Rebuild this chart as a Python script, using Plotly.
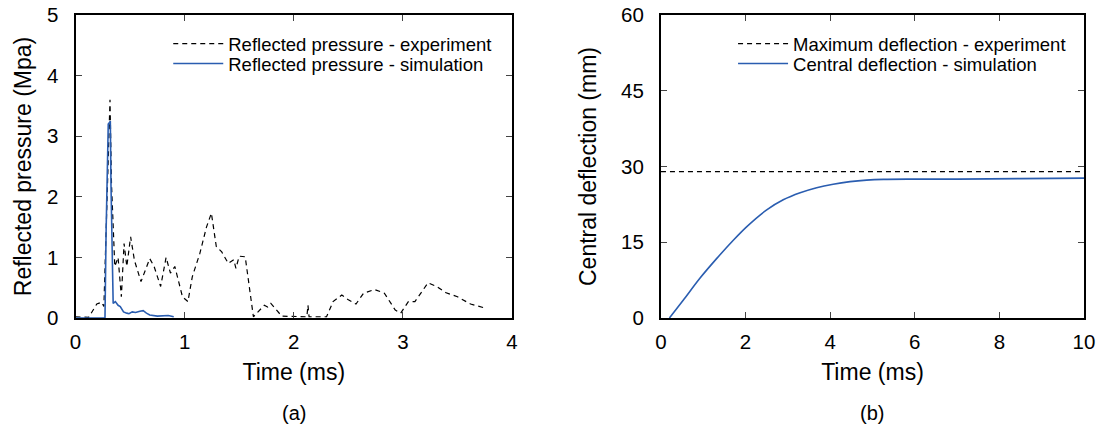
import plotly.graph_objects as go

# (a) reflected pressure, experiment
exp_t = [0.00, 0.02, 0.10, 0.12, 0.195, 0.24, 0.26, 0.28, 0.30, 0.316, 0.33, 0.35, 0.36,
         0.39, 0.42, 0.445, 0.47, 0.505, 0.54, 0.60, 0.68, 0.72, 0.78, 0.83, 0.87, 0.91,
         0.98, 1.03, 1.07, 1.14, 1.20, 1.245, 1.29, 1.34, 1.40, 1.45, 1.47, 1.50, 1.555,
         1.63, 1.73, 1.76, 1.79, 1.89, 2.02, 2.12, 2.13, 2.14, 2.30, 2.36, 2.44, 2.50,
         2.57, 2.64, 2.74, 2.83, 2.93, 2.98, 3.05, 3.11, 3.23, 3.31, 3.39, 3.50, 3.62, 3.76]
exp_p = [0.02, 0.02, 0.02, 0.01, 0.23, 0.26, 0.19, 1.50, 2.60, 3.60, 2.20, 1.40, 0.85,
         1.00, 0.35, 1.23, 0.85, 1.34, 0.95, 0.60, 0.98, 0.85, 0.52, 1.00, 0.74, 0.85,
         0.35, 0.27, 0.68, 1.07, 1.50, 1.73, 1.18, 1.09, 0.90, 0.96, 0.82, 1.02, 1.01,
         0.02, 0.21, 0.18, 0.24, 0.03, 0.02, 0.02, 0.21, 0.02, 0.02, 0.27, 0.38, 0.30,
         0.23, 0.41, 0.47, 0.41, 0.13, 0.08, 0.27, 0.27, 0.58, 0.52, 0.42, 0.35, 0.23, 0.16]

# (a) reflected pressure, simulation
sim_t = [0.00, 0.27, 0.28, 0.29, 0.30, 0.31, 0.319, 0.325, 0.335, 0.345, 0.365, 0.39,
         0.41, 0.44, 0.47, 0.49, 0.52, 0.55, 0.59, 0.62, 0.65, 0.68, 0.75, 0.80, 0.85, 0.90]
sim_p = [0.00, 0.00, 1.40, 2.20, 3.20, 3.22, 3.25, 2.20, 1.40, 0.24, 0.27, 0.21,
         0.19, 0.10, 0.08, 0.07, 0.10, 0.09, 0.11, 0.12, 0.08, 0.05, 0.03, 0.03, 0.04, 0.02]

# (b) central deflection, simulation
def_t = [0.20, 0.53, 0.92, 1.32, 1.71, 2.03, 2.50, 2.89, 3.29, 3.68, 4.07, 4.47, 4.86,
         5.26, 5.89, 7.0, 8.5, 10.0]
def_y = [0.0, 3.56, 7.86, 11.8, 15.4, 18.1, 21.4, 23.4, 24.8, 25.8, 26.5, 27.0, 27.3,
         27.45, 27.5, 27.5, 27.6, 27.7]

# (b) maximum deflection, experiment
max_t = [0.0, 10.0]
max_y = [29.0, 29.0]

BLUE = "#2a5db0"
FONT = "Liberation Sans, Arial, sans-serif"

fig = go.Figure()
fig.add_trace(go.Scatter(x=exp_t, y=exp_p, mode="lines", name="Reflected pressure - experiment",
                         line=dict(color="black", width=1.2, dash="5px,4px"), showlegend=True,
                         xaxis="x", yaxis="y", legend="legend"))
fig.add_trace(go.Scatter(x=sim_t, y=sim_p, mode="lines", name="Reflected pressure - simulation",
                         line=dict(color=BLUE, width=1.6), showlegend=True,
                         xaxis="x", yaxis="y", legend="legend2"))
fig.add_trace(go.Scatter(x=max_t, y=max_y, mode="lines", name="Maximum deflection - experiment",
                         line=dict(color="black", width=1.2, dash="5px,4px"), showlegend=True,
                         xaxis="x2", yaxis="y2", legend="legend3"))
fig.add_trace(go.Scatter(x=def_t, y=def_y, mode="lines", name="Central deflection - simulation",
                         line=dict(color=BLUE, width=1.6, shape="spline", smoothing=0.8),
                         showlegend=True, xaxis="x2", yaxis="y2", legend="legend4"))

ax_common = dict(showline=True, linecolor="black", linewidth=2, mirror="ticks",
                 ticks="inside", ticklen=6, tickcolor="#444", tickwidth=1,
                 showgrid=False, zeroline=False, automargin=False,
                 tickfont=dict(size=20.5, color="black", family=FONT))
ydom = [0.2518, 0.9647]
xt = dict(size=23)
leg_font = dict(size=18.5, family=FONT)
row1_y = 1 - 25 / 425
row2_y = 1 - 45 / 425


def leg(x, y):
    return dict(x=x, y=y, xanchor="left", yanchor="top", bgcolor="rgba(0,0,0,0)",
                font=leg_font, itemwidth=50, tracegroupgap=0, visible=True)


fig.update_layout(
    width=1104, height=425,
    margin=dict(l=0, r=0, t=0, b=0),
    showlegend=True,
    paper_bgcolor="white", plot_bgcolor="white",
    font=dict(family=FONT, color="black"),
    xaxis=dict(domain=[0.0684, 0.4638], range=[0, 4], tickvals=[0, 1, 2, 3, 4],
               ticklabelstandoff=4,
               title=dict(text="Time (ms)", font=xt, standoff=12), anchor="y", **ax_common),
    yaxis=dict(domain=ydom, range=[0, 5], tickvals=[0, 1, 2, 3, 4, 5],
               ticklabelstandoff=11,
               title=dict(text="Reflected pressure (Mpa)", font=xt, standoff=9),
               anchor="x", **ax_common),
    xaxis2=dict(domain=[0.5987, 0.9819], range=[0, 10], tickvals=[0, 2, 4, 6, 8, 10],
                ticklabelstandoff=4,
                title=dict(text="Time (ms)", font=xt, standoff=12), anchor="y2", **ax_common),
    yaxis2=dict(domain=ydom, range=[0, 60], tickvals=[0, 15, 30, 45, 60],
                ticklabelstandoff=11,
                title=dict(text="Central deflection (mm)", font=xt, standoff=18),
                anchor="x2", **ax_common),
    legend=leg(0.1524, row1_y),
    legend2=leg(0.1524, row2_y),
    legend3=leg(0.664, row1_y),
    legend4=leg(0.664, row2_y),
    annotations=[
        dict(text="(a)", x=0.2661, y=(425 - 413) / 425, xref="paper", yref="paper",
             showarrow=False, font=dict(size=20), xanchor="center", yanchor="middle"),
        dict(text="(b)", x=0.7903, y=(425 - 413) / 425, xref="paper", yref="paper",
             showarrow=False, font=dict(size=20), xanchor="center", yanchor="middle"),
    ],
)

fig.write_html("out.html", config={"displayModeBar": False},
               post_script="document.body.style.margin='0';")
